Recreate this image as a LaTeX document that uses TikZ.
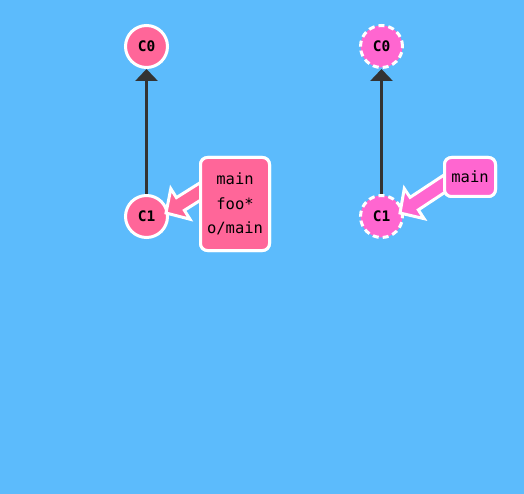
\documentclass[tikz,border=0pt]{standalone}
\usepackage{fontspec}
\setmonofont{DejaVu Sans Mono}
\usetikzlibrary{arrows.meta,calc}
\definecolor{bg}{RGB}{92,187,252}
\definecolor{pinkA}{RGB}{255,102,153}
\definecolor{pinkB}{RGB}{255,102,208}
\definecolor{edgec}{RGB}{51,51,51}
\tikzset{
  commit/.style={circle,draw=white,line width=3pt,minimum size=42pt,inner sep=0pt,
    font=\ttfamily\bfseries\fontsize{14.5}{14.5}\selectfont,text=black},
  commitA/.style={commit,fill=pinkA},
  commitB/.style={commit,fill=pinkB,dash pattern=on 6pt off 4pt},
  branchbox/.style={draw=white,line width=3pt,rounded corners=7pt,inner sep=0pt,
    align=center,font=\ttfamily\fontsize{15.5}{24.5}\selectfont,text=black},
  parent/.style={draw=edgec,line width=3pt,-{Triangle[width=22pt,length=12pt]}},
  fatarrow/.style={draw=white,line width=3pt,line join=miter},
}
\newcommand{\fatarrow}[3]{%
  \path[fatarrow,fill=#3] (#1)
   -- ($($(#1)!17pt!(#2)$)!18pt!90:(#2)$)
   -- ($($(#1)!17pt!(#2)$)!7.5pt!90:(#2)$)
   -- ($(#2)!7.5pt!-90:(#1)$)
   -- ($(#2)!7.5pt!90:(#1)$)
   -- ($($(#1)!17pt!(#2)$)!7.5pt!-90:(#2)$)
   -- ($($(#1)!17pt!(#2)$)!18pt!-90:(#2)$)
   -- cycle;}
\begin{document}
\begin{tikzpicture}[x=1pt,y=1pt]
\fill[bg] (0,0) rectangle (524,-494);
\useasboundingbox (0,0) rectangle (524,-494);
% left
\node[commitA] (a0) at (146.5,-46.5) {C0};
\node[commitA] (a1) at (146.5,-216.5) {C1};
\draw[parent] (a1) -- (a0);
\node[branchbox,fill=pinkA,minimum width=69pt,minimum height=93pt] (la) at (235,-204) {main\\foo*\\o/main};
\coordinate (ta) at ($(a1)+(19.5,3.5)$);
\coordinate (sa) at ($(la.west)+(10,18)$);
\fatarrow{ta}{sa}{pinkA}
\node[branchbox,fill=pinkA,minimum width=69pt,minimum height=93pt] at (la) {main\\foo*\\o/main};
% right
\node[commitB] (b0) at (381.5,-46.5) {C0};
\node[commitB] (b1) at (381.5,-216.5) {C1};
\draw[parent] (b1) -- (b0);
\node[branchbox,fill=pinkB,minimum width=51pt,minimum height=39pt] (lb) at (470,-177) {main};
\coordinate (tb) at ($(b1)+(18.5,3.5)$);
\coordinate (sb) at ($(lb.west)+(7,-3)$);
\fatarrow{tb}{sb}{pinkB}
\node[branchbox,fill=pinkB,minimum width=51pt,minimum height=39pt] at (lb) {main};
\end{tikzpicture}
\end{document}
